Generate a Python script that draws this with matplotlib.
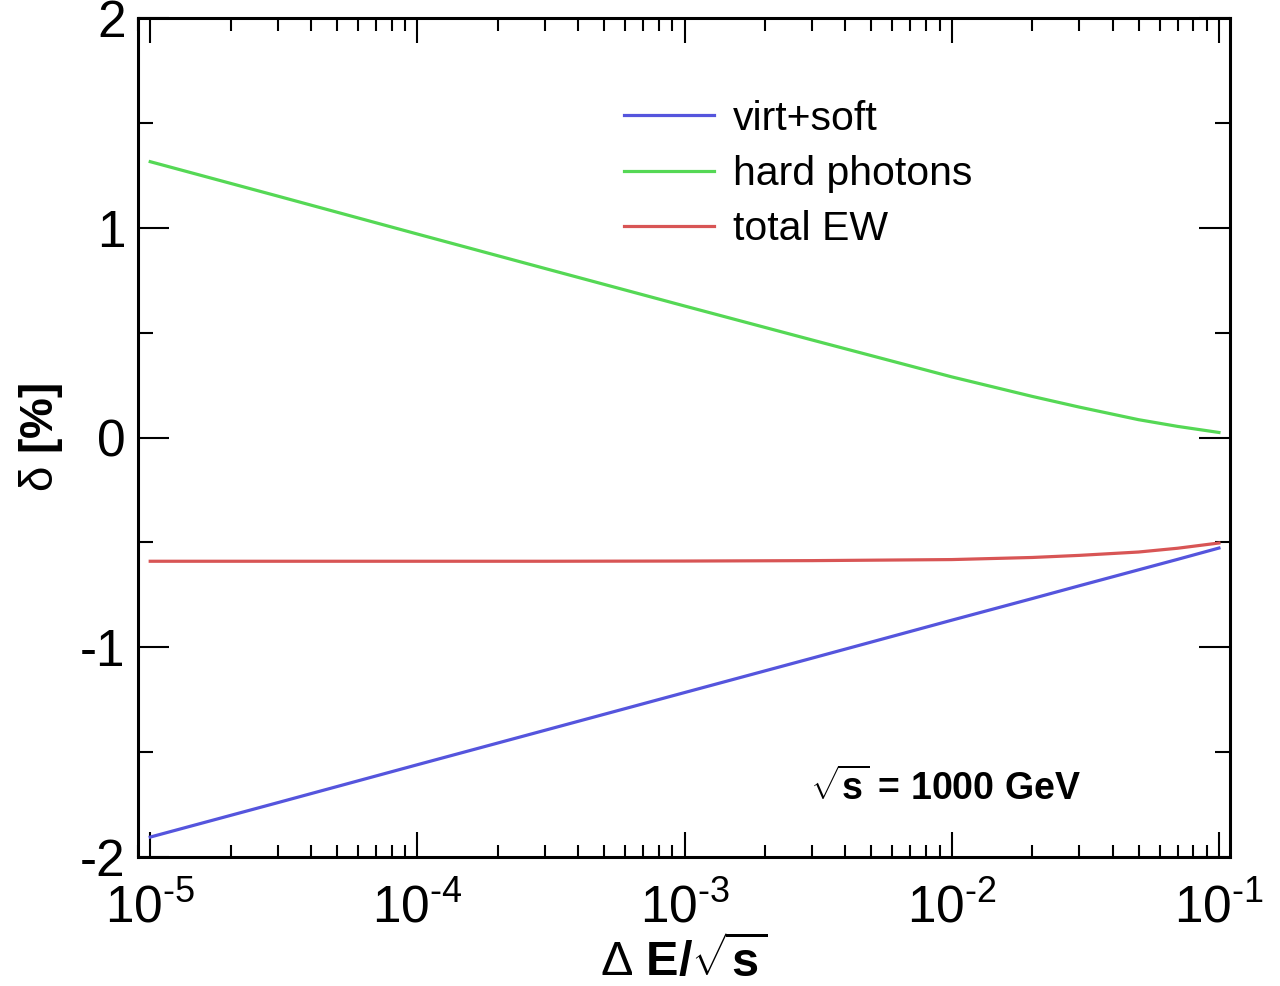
import matplotlib
matplotlib.use("Agg")
import matplotlib.pyplot as plt
from matplotlib.ticker import LogLocator, MultipleLocator, FixedLocator
import numpy as np

plt.rcParams['font.family'] = ['Liberation Sans', 'DejaVu Sans']
plt.rcParams['mathtext.fontset'] = 'custom'
plt.rcParams['mathtext.rm'] = 'Liberation Sans'
plt.rcParams['mathtext.it'] = 'Liberation Sans:italic'
plt.rcParams['mathtext.bf'] = 'Liberation Sans:bold'
plt.rcParams['axes.unicode_minus'] = False

# delta E / sqrt(s)
dE = [1e-5, 3e-5, 1e-4, 3e-4, 1e-3, 3e-3, 1e-2, 2e-2, 3e-2, 5e-2, 7e-2, 1e-1]
# corrections in %
virt_soft = [-1.905, -1.741, -1.560, -1.396, -1.216, -1.052, -0.871, -0.768, -0.707, -0.631, -0.581, -0.527]
hard_phot = [1.315, 1.151, 0.970, 0.806, 0.627, 0.465, 0.289, 0.196, 0.145, 0.085, 0.053, 0.024]
total_ew = [-0.590, -0.590, -0.590, -0.590, -0.589, -0.587, -0.582, -0.572, -0.562, -0.546, -0.528, -0.503]

xticks = [1e-5, 1e-4, 1e-3, 1e-2, 1e-1]
xticklabels = [r'$10^{\text{-5}}$', r'$10^{\text{-4}}$', r'$10^{\text{-3}}$',
               r'$10^{\text{-2}}$', r'$10^{\text{-1}}$']
yticks = [-2, -1, 0, 1, 2]
yticklabels = ['-2', '-1', '0', '1', '2']

fig = plt.figure(figsize=(12.8, 9.86), dpi=100)
ax = fig.add_axes([138/1280, 1-857/986, (1230-138)/1280, (857-18)/986])

ax.plot(dE, virt_soft, color='#5555dd', lw=2.3, label='virt+soft')
ax.plot(dE, hard_phot, color='#55d855', lw=2.3, label='hard photons')
ax.plot(dE, total_ew, color='#d85555', lw=2.3, label='total EW')

ax.set_xscale('log')
ax.set_xlim(0.9e-5, 1.1e-1)
ax.set_ylim(-2, 2)

ax.xaxis.set_major_locator(FixedLocator(xticks))
ax.xaxis.set_minor_locator(LogLocator(base=10, subs=np.arange(2, 10), numticks=20))
ax.set_xticklabels(xticklabels)
ax.set_yticks(yticks)
ax.set_yticklabels(yticklabels)
ax.yaxis.set_minor_locator(MultipleLocator(0.5))

ax.tick_params(which='both', direction='in', top=True, right=True, width=1.5, labelsize=37)
ax.tick_params(axis='x', which='major', length=18, pad=19)
ax.tick_params(axis='x', which='minor', length=9)
ax.tick_params(axis='y', which='major', length=22, pad=9)
ax.tick_params(axis='y', which='minor', length=11)
for s in ax.spines.values():
    s.set_linewidth(2.2)

ax.set_xlabel(r'$\Delta\ \mathbf{E/\sqrt{s}}$', fontsize=35, labelpad=2)
ax.set_ylabel(r'$\mathrm{\delta}\ \mathbf{[\%]}$', fontsize=33, labelpad=11)

ax.legend(loc='upper left', bbox_to_anchor=(0.43, 0.922), frameon=False, fontsize=29.5,
          handlelength=2.2, handletextpad=0.45, labelspacing=0.42, borderaxespad=0)

ax.text(0.615, 0.082, r'$\mathbf{\sqrt{s}}$ = 1000 GeV', transform=ax.transAxes,
        fontsize=27, fontweight='bold', va='center', ha='left')

fig.savefig('out.png', dpi=100)
